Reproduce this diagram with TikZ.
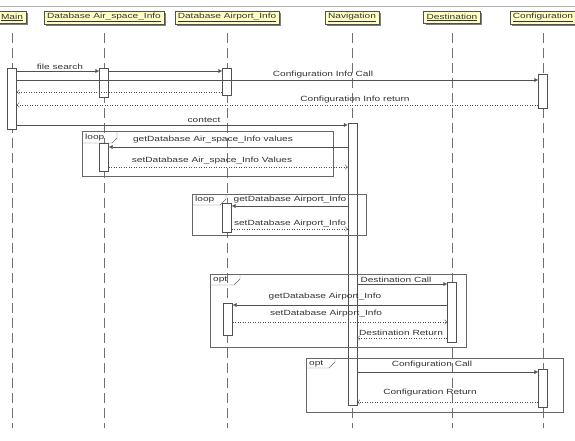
\documentclass[tikz,border=0pt]{standalone}
\usepackage{fontspec}
\setmainfont{Liberation Sans}
\usepackage[]{xcolor}
\usetikzlibrary{arrows.meta,shadows}

\definecolor{headfill}{HTML}{FFFFC4}
\definecolor{linegray}{HTML}{505050}
\definecolor{lifegray}{HTML}{707070}
\newcommand{\lbl}[1]{\scalebox{1.35}[1]{#1}}

\begin{document}
\begin{tikzpicture}[x=1pt, y=-1pt, font=\fontsize{7.5}{9}\selectfont, text=black!80,
    head/.style={draw=linegray, fill=headfill, inner xsep=3pt, inner ysep=2pt, minimum height=12pt,
        drop shadow={shadow xshift=2pt, shadow yshift=-2pt, fill=black!50, opacity=1}},
    lifeline/.style={lifegray, dash pattern=on 10pt off 5pt},
    actbox/.style={draw=linegray, fill=white, minimum width=9pt, inner sep=0pt},
    msg/.style={linegray, -{Latex[length=4pt,width=4pt]}},
    reply/.style={linegray, dash pattern=on 1.2pt off 1.3pt, -{Straight Barb[length=2.5pt,width=4.5pt]}},
    frame/.style={draw=black!60},
    lbltext/.style={inner sep=0pt}]
\useasboundingbox (0,0) rectangle (575,441);
\draw[black!30, line width=1pt] (0,7) -- (575,7);

    \node[head] (main) at (12,17.5) {\lbl{\underline{Main}}};
    \node[head] (dbair) at (104,17.5) {\lbl{\underline{Database Air\_space\_Info}}};
    \node[head] (dbport) at (227,17.5) {\lbl{\underline{Database Airport\_Info}}};
    \node[head] (nav) at (352,17.5) {\lbl{\underline{Navigation}}};
    \node[head] (dest) at (452,17.5) {\lbl{\underline{Destination}}};
    \node[head] (conf) at (543,17.5) {\lbl{\underline{Configuration}}};

    \draw[lifeline] ([yshift=-9pt]main.south) -- (main |- 0,428);
    \draw[lifeline] ([yshift=-9pt]dbair.south) -- (dbair |- 0,428);
    \draw[lifeline] ([yshift=-9pt]dbport.south) -- (dbport |- 0,428);
    \draw[lifeline] ([yshift=-9pt]nav.south) -- (nav |- 0,428);
    \draw[lifeline] ([yshift=-9pt]dest.south) -- (dest |- 0,428);
    \draw[lifeline] ([yshift=-9pt]conf.south) -- (conf |- 0,428);

    \node[actbox, minimum height=61pt] (mainact) at (12,98.5) {};
    \node[actbox, minimum height=29pt] (airact1) at (104,82.5) {};
    \node[actbox, minimum height=27pt] (portact1) at (227,81.5) {};
    \node[actbox, minimum height=34pt] (confact1) at (543,91) {};
    \node[actbox, minimum height=282pt] (navact) at (352.5,264) {};
    \node[actbox, minimum height=28pt] (airact2) at (104,157) {};
    \node[actbox, minimum height=29pt] (portact2) at (227,217.5) {};
    \node[actbox, minimum height=60pt] (destact) at (452,312) {};
    \node[actbox, minimum height=32pt] (portact3) at (228,319) {};
    \node[actbox, minimum height=38pt] (confact2) at (543,388) {};

    \draw[frame] (82,131) rectangle (333,176);
    \draw[frame] (82,143) -- (112,143) -- (117,138) -- (117,131);
    \node[lbltext, anchor=west] (looptag1) at (85,137.5) {\lbl{loop}};
    \draw[frame] (192,194) rectangle (366,235);
    \draw[frame] (192,205) -- (220,205) -- (226,199) -- (226,194);
    \node[lbltext, anchor=west] (looptag2) at (195,200) {\lbl{loop}};
    \draw[frame] (210,274) rectangle (466,347);
    \draw[frame] (210,285) -- (234,285) -- (240,279) -- (240,274);
    \node[lbltext, anchor=west] (opttag1) at (213,280) {\lbl{opt}};
    \draw[frame] (306,358) rectangle (563,412);
    \draw[frame] (306,368) -- (329,368) -- (335,362) -- (335,358);
    \node[lbltext, anchor=west] (opttag2) at (309,364) {\lbl{opt}};

    \draw[msg] (mainact.east |- 0,71) -- (airact1.west |- 0,71);
    \draw[msg] (airact1.east |- 0,71) -- (portact1.west |- 0,71);
    \draw[msg] (mainact.east |- 0,80) -- (confact1.west |- 0,80);
    \draw[reply] (portact1.west |- 0,92) -- (mainact.east |- 0,92);
    \draw[reply] (confact1.west |- 0,105) -- (mainact.east |- 0,105);
    \draw[msg] (mainact.east |- 0,125) -- (navact.west |- 0,125);
    \draw[msg] (navact.west |- 0,147) -- (airact2.east |- 0,147);
    \draw[reply] (airact2.east |- 0,167) -- (navact.west |- 0,167);
    \draw[msg] (navact.west |- 0,206) -- (portact2.east |- 0,206);
    \draw[reply] (portact2.east |- 0,229) -- (navact.west |- 0,229);
    \draw[msg] (navact.east |- 0,284) -- (destact.west |- 0,284);
    \draw[msg] (destact.west |- 0,305) -- (portact3.east |- 0,305);
    \draw[reply] (portact3.east |- 0,322) -- (destact.west |- 0,322);
    \draw[reply] (destact.west |- 0,338) -- (navact.east |- 0,338);
    \draw[msg] (navact.east |- 0,372) -- (confact2.west |- 0,372);
    \draw[reply] (confact2.west |- 0,402) -- (navact.east |- 0,402);

    \node[lbltext] (filesearch) at (60,67) {\lbl{file search}};
    \node[lbltext] (confinfocall) at (323,75) {\lbl{Configuration Info Call}};
    \node[lbltext] (confinforet) at (355,100) {\lbl{Configuration Info return}};
    \node[lbltext] (contect) at (204,120) {\lbl{contect}};
    \node[lbltext] (getair) at (213,140) {\lbl{getDatabase Air\_space\_Info values}};
    \node[lbltext] (setair) at (212,161) {\lbl{setDatabase Air\_space\_Info Values}};
    \node[lbltext] (getport1) at (290,200) {\lbl{getDatabase Airport\_Info}};
    \node[lbltext] (setport1) at (290,224) {\lbl{setDatabase Airport\_Info}};
    \node[lbltext] (destcall) at (396,280) {\lbl{Destination Call}};
    \node[lbltext] (getport2) at (325,297) {\lbl{getDatabase Airport\_Info}};
    \node[lbltext] (setport2) at (326,314) {\lbl{setDatabase Airport\_Info}};
    \node[lbltext] (destret) at (401,333) {\lbl{Destination Return}};
    \node[lbltext] (confcall) at (432,365) {\lbl{Configuration Call}};
    \node[lbltext] (confret) at (430,393) {\lbl{Configuration Return}};
\end{tikzpicture}
\end{document}
